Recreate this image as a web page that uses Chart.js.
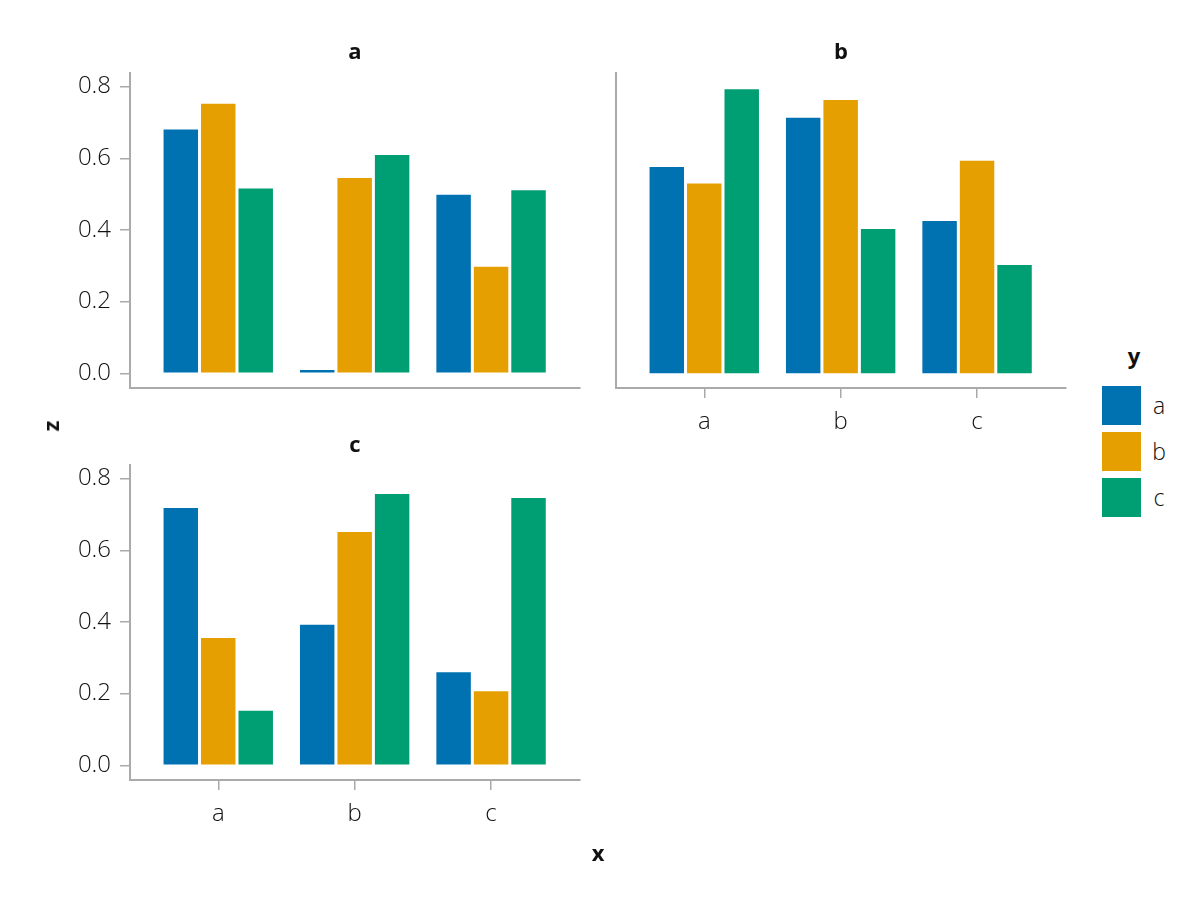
<!DOCTYPE html>
<html>
<head>
<meta charset="utf-8">
<script src="https://cdn.jsdelivr.net/npm/chart.js@4/dist/chart.umd.min.js"></script>
<style>
    body { margin: 0; background: #fff; }
    #wrap { position: relative; width: 1200px; height: 900px; font-family: "Open Sans", sans-serif; color: #111; }
    .panel { position: absolute; width: 600px; height: 450px; }
    .lbl { position: absolute; transform: translate(-50%, -50%); white-space: nowrap; }
    .bold { font-weight: 700; font-size: 22px; }
    .light { font-weight: 300; font-size: 23px; }
    .swatch { position: absolute; width: 39px; height: 39px; }
</style>
</head>
<body>
<div id="wrap">
    <div class="panel" style="left:0;top:0"><canvas id="panelA"></canvas></div>
    <div class="panel" style="left:486px;top:0"><canvas id="panelB"></canvas></div>
    <div class="panel" style="left:0;top:392px"><canvas id="panelC"></canvas></div>

    <div class="lbl bold" style="left:355px;top:50px">a</div>
    <div class="lbl bold" style="left:841px;top:50px">b</div>
    <div class="lbl bold" style="left:355px;top:443px">c</div>
    <div class="lbl bold" style="left:50px;top:426px;transform:translate(-50%,-50%) rotate(-90deg)">z</div>
    <div class="lbl bold" style="left:598px;top:852px">x</div>

    <div id="legend"></div>
</div>

<script>
// categories on the x axis and the colour groups (y)
const xLabels = ['a', 'b', 'c'];
const groups = ['a', 'b', 'c'];
const colors = ['#0072B2', '#E69F00', '#009E73'];
const yTicks = [0, 0.2, 0.4, 0.6, 0.8];

// panel a: one array per group, values for x = a, b, c
const panelA_a = [0.680, 0.009, 0.498];
const panelA_b = [0.752, 0.545, 0.297];
const panelA_c = [0.516, 0.609, 0.511];

// panel b
const panelB_a = [0.576, 0.713, 0.425];
const panelB_b = [0.530, 0.763, 0.593];
const panelB_c = [0.793, 0.403, 0.302];

// panel c
const panelC_a = [0.718, 0.392, 0.260];
const panelC_b = [0.355, 0.651, 0.207];
const panelC_c = [0.152, 0.757, 0.746];

const AXIS = '#aaaaaa';
const FONT = { family: 'Open Sans', size: 24, weight: '300' };

function makePanel(id, series, showX, showY) {
    const datasets = series.map((vals, i) => ({
        label: groups[i],
        data: vals.map((v, k) => ({ x: k + 1, y: v })),
        backgroundColor: colors[i],
        borderWidth: 0,
        barPercentage: 0.92,
        categoryPercentage: 0.824
    }));

    new Chart(document.getElementById(id), {
        type: 'bar',
        data: { datasets: datasets },
        options: {
            responsive: true,
            maintainAspectRatio: false,
            animation: false,
            layout: { padding: { top: 73, right: 20, bottom: 12, left: 0 } },
            plugins: { legend: { display: false }, tooltip: { enabled: false } },
            scales: {
                x: {
                    type: 'linear',
                    min: 0.353,
                    max: 3.652,
                    offset: false,
                    afterBuildTicks: scale => { scale.ticks = xLabels.map((l, k) => ({ value: k + 1 })); },
                    afterFit: scale => { scale.height = 50; },
                    grid: { display: showX, offset: false, drawOnChartArea: false, drawTicks: true, tickLength: 10, color: AXIS, lineWidth: 1.5 },
                    border: { display: true, color: AXIS, width: 2 },
                    ticks: {
                        display: showX,
                        padding: 10,
                        color: '#111',
                        font: FONT,
                        maxRotation: 0,
                        autoSkip: false,
                        callback: v => xLabels[Math.round(v) - 1]
                    }
                },
                y: {
                    min: -0.041,
                    max: 0.838,
                    afterBuildTicks: scale => { scale.ticks = yTicks.map(v => ({ value: v })); },
                    afterFit: scale => { scale.width = 130; },
                    grid: { display: showY, drawOnChartArea: false, drawTicks: true, tickLength: 10, color: AXIS, lineWidth: 1.5 },
                    border: { display: true, color: AXIS, width: 2 },
                    ticks: {
                        display: showY,
                        padding: 9,
                        color: '#111',
                        font: FONT,
                        callback: v => v.toFixed(1)
                    }
                }
            }
        }
    });
}

makePanel('panelA', [panelA_a, panelA_b, panelA_c], false, true);
makePanel('panelB', [panelB_a, panelB_b, panelB_c], true, false);
makePanel('panelC', [panelC_a, panelC_b, panelC_c], true, true);

// legend
const legend = document.getElementById('legend');
legend.innerHTML = '<div class="lbl bold" style="left:1134px;top:355px">y</div>';
groups.forEach((g, i) => {
    const top = 386 + i * 46;
    legend.innerHTML += '<div class="swatch" style="left:1102px;top:' + top + 'px;background:' + colors[i] + '"></div>' +
        '<div class="lbl light" style="left:1159px;top:' + (top + 19) + 'px">' + g + '</div>';
});
</script>
</body>
</html>
